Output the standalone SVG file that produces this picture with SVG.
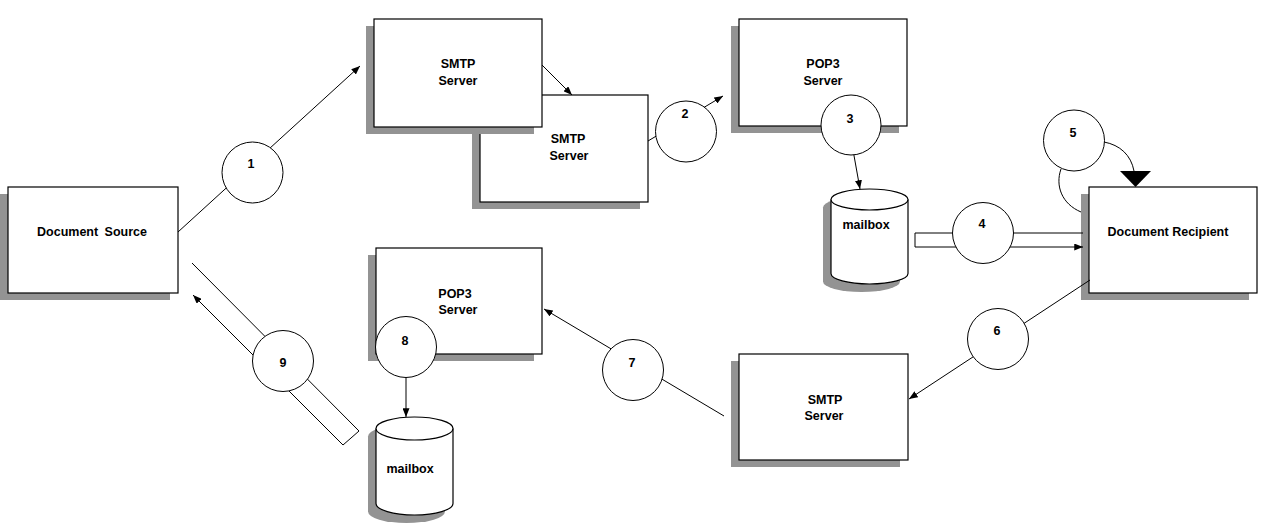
<svg xmlns="http://www.w3.org/2000/svg" width="1280" height="530" viewBox="0 0 1280 530">
<style>
.sh{fill:#939393;stroke:none}
.bx{fill:#fff;stroke:#000;stroke-width:1.2}
.t{font-family:"Liberation Sans",Arial,sans-serif;font-size:12.5px;font-weight:bold;fill:#000;text-anchor:middle}
.ln{fill:none;stroke:#000;stroke-width:1}
.ci{fill:#fff;stroke:#000;stroke-width:1}
</style>
<defs>
<marker id="ah" viewBox="0 0 10 8" refX="10" refY="4" markerWidth="9" markerHeight="7" markerUnits="userSpaceOnUse" orient="auto">
<path d="M0,0 L10,4 L0,8 z" fill="#000"/>
</marker>
</defs>
<rect width="1280" height="530" fill="#fff"/>

<g id="doc-source">
<rect class="sh" x="0" y="194" width="170" height="106"/>
<rect class="bx" x="8" y="187" width="170" height="106"/>
<text class="t" x="92" y="236" word-spacing="3">Document Source</text>
</g>

<g id="smtp-server-2">
<rect class="sh" x="472" y="102" width="168" height="107"/>
<rect class="bx" x="480" y="95" width="168" height="107"/>
<text class="t" x="568" y="143">SMTP</text>
<text class="t" x="569" y="160">Server</text>
</g>

<g id="smtp-server-1">
<rect class="sh" x="366" y="26" width="168" height="108"/>
<rect class="bx" x="374" y="19" width="168" height="108"/>
<text class="t" x="458" y="68">SMTP</text>
<text class="t" x="458" y="85">Server</text>
</g>

<g id="pop3-server-1">
<rect class="sh" x="731" y="26" width="168" height="107"/>
<rect class="bx" x="739" y="19" width="168" height="107"/>
<text class="t" x="823" y="68">POP3</text>
<text class="t" x="823" y="85">Server</text>
</g>

<g id="mailbox-1">
<path class="sh" d="M823,207.5 A38.5,10.5 0 0 1 900,207.5 L900,281.5 A38.5,10.5 0 0 1 823,281.5 Z"/>
<path class="bx" d="M831,199.5 L831,273.5 A38.5,10.5 0 0 0 908,273.5 L908,199.5"/>
<ellipse class="bx" cx="869.5" cy="199.5" rx="38.5" ry="10.5"/>
<text class="t" x="866" y="229">mailbox</text>
</g>

<g id="doc-recipient">
<rect class="sh" x="1081" y="194" width="168" height="106"/>
<rect class="bx" x="1089" y="187" width="168" height="106"/>
<text class="t" x="1168" y="236">Document Recipient</text>
</g>

<g id="pop3-server-2">
<rect class="sh" x="368" y="255" width="166" height="106"/>
<rect class="bx" x="376" y="248" width="166" height="106"/>
<text class="t" x="455" y="297.5">POP3</text>
<text class="t" x="458" y="314">Server</text>
</g>

<g id="mailbox-2">
<path class="sh" d="M368,436.5 A38.5,11.5 0 0 1 445,436.5 L445,511.5 A38.5,11.5 0 0 1 368,511.5 Z"/>
<path class="bx" d="M376,428.5 L376,503.5 A38.5,11.5 0 0 0 453,503.5 L453,428.5"/>
<ellipse class="bx" cx="414.5" cy="428.5" rx="38.5" ry="11.5"/>
<text class="t" x="410" y="473">mailbox</text>
</g>

<g id="smtp-server-3">
<rect class="sh" x="731" y="361" width="169" height="106"/>
<rect class="bx" x="739" y="354" width="169" height="106"/>
<text class="t" x="825" y="404">SMTP</text>
<text class="t" x="824" y="420">Server</text>
</g>

<g id="connectors">
<line class="ln" x1="178" y1="232" x2="360" y2="66" marker-end="url(#ah)"/>
<line class="ln" x1="542" y1="65" x2="572" y2="95" marker-end="url(#ah)"/>
<line class="ln" x1="648" y1="141" x2="723" y2="96" marker-end="url(#ah)"/>
<line class="ln" x1="853" y1="150" x2="860" y2="189" marker-end="url(#ah)"/>
<path class="ln" d="M1083,233 L915,233 L915,247 L1083,247" marker-end="url(#ah)"/>
<path class="ln" d="M1081,212 C1062,204 1055,186 1061,169"/>
<path class="ln" d="M1104,142 C1120,145 1131,155 1134,171"/>
<path d="M1120,171 L1151,171 L1135.5,187 Z" fill="#000"/>
<line class="ln" x1="1090" y1="280" x2="909" y2="399" marker-end="url(#ah)"/>
<line class="ln" x1="724" y1="416" x2="544" y2="309" marker-end="url(#ah)"/>
<line class="ln" x1="406" y1="375" x2="406" y2="417" marker-end="url(#ah)"/>
<path class="ln" d="M192,263 L359,431 L343,445 L193,295" marker-end="url(#ah)"/>
</g>

<g id="step-1"><circle class="ci" cx="252.5" cy="172.5" r="30.5"/><text class="t" x="251" y="167.5">1</text></g>
<g id="step-2"><circle class="ci" cx="686" cy="131.5" r="30.5"/><text class="t" x="685" y="117.5">2</text></g>
<g id="step-3"><circle class="ci" cx="851" cy="125" r="30"/><text class="t" x="850" y="122.5">3</text></g>
<g id="step-4"><circle class="ci" cx="983" cy="233" r="30.5"/><text class="t" x="982" y="227.5">4</text></g>
<g id="step-5"><circle class="ci" cx="1074" cy="140.5" r="30.5"/><text class="t" x="1073" y="136.5">5</text></g>
<g id="step-6"><circle class="ci" cx="998" cy="339" r="30.5"/><text class="t" x="997" y="334.5">6</text></g>
<g id="step-7"><circle class="ci" cx="633" cy="370" r="30.5"/><text class="t" x="632" y="366.5">7</text></g>
<g id="step-8"><circle class="ci" cx="406" cy="347" r="30.5"/><text class="t" x="405" y="344.5">8</text></g>
<g id="step-9"><circle class="ci" cx="283" cy="361" r="30.5"/><text class="t" x="283" y="366.5">9</text></g>
</svg>
